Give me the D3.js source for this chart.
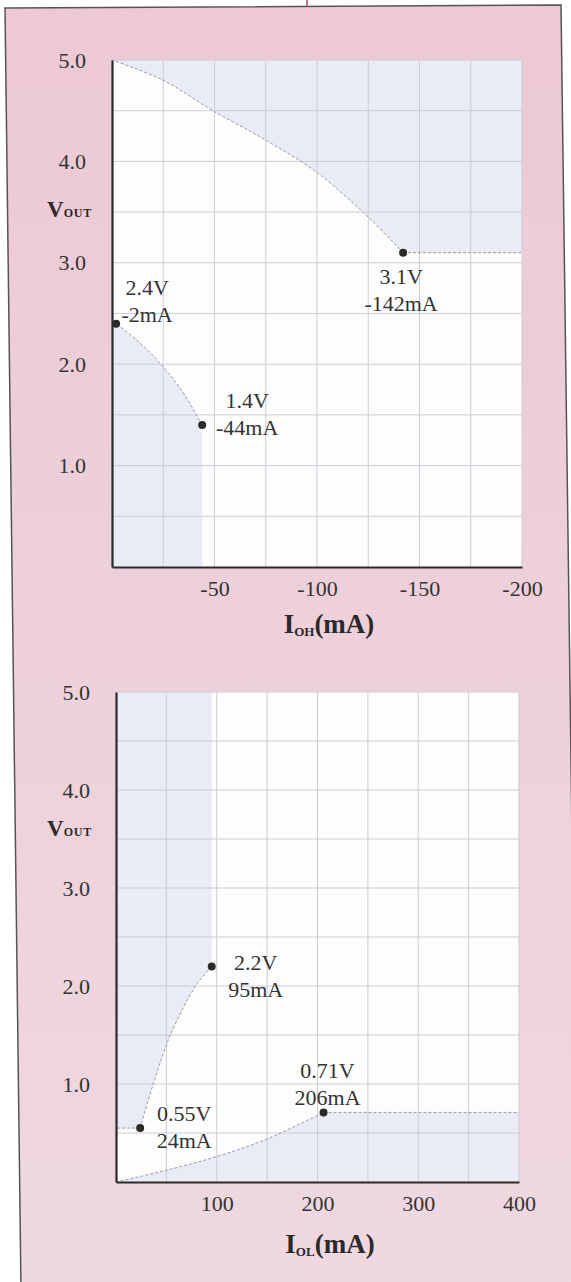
<!DOCTYPE html>
<html>
<head>
  <meta charset="utf-8">
  <title>VOUT - IOH / IOL</title>
  <script src="https://cdn.jsdelivr.net/npm/d3@7/dist/d3.min.js"></script>
  <style>
    body { margin: 0; background: #fff; }
    text { font-family: "Liberation Serif", "Times New Roman", serif; fill: #333; }
  </style>
</head>
<body>
<svg width="571" height="1282"></svg>

<script>
  // ---- 数据 ----
  var yTicks = [1, 2, 3, 4, 5];
  var yTickLabels = ["1.0", "2.0", "3.0", "4.0", "5.0"];

  var ohTicks = [-50, -100, -150, -200];
  var ohTickLabels = ["-50", "-100", "-150", "-200"];
  var olTicks = [100, 200, 300, 400];
  var olTickLabels = ["100", "200", "300", "400"];

  // 上图 (IOH) 标注点 [mA, V]
  var ohPoints = [[-2, 2.4], [-142, 3.1], [-44, 1.4]];
  var ohPointText = [["2.4V", "-2mA"], ["3.1V", "-142mA"], ["1.4V", "-44mA"]];
  // 阴影区边界曲线
  var ohUpperCurve = [[-142, 3.1], [-125, 3.45], [-100, 3.89], [-75, 4.21], [-50, 4.49], [-25, 4.8], [0, 5.0]];
  var ohLowerCurve = [[-44, 1.4], [-34, 1.74], [-23, 2.02], [-12, 2.24], [-2, 2.4]];

  // 下图 (IOL)
  var olPoints = [[95, 2.2], [24, 0.55], [206, 0.71]];
  var olPointText = [["2.2V", "95mA"], ["0.55V", "24mA"], ["0.71V", "206mA"]];
  var olLeftCurve = [[24, 0.55], [37, 1.0], [54, 1.5], [79, 2.0], [95, 2.2]];
  var olLowerCurve = [[0, 0], [50, 0.12], [100, 0.26], [150, 0.44], [206, 0.71]];

  var svg = d3.select("svg");

  // 粉色底板（带一点渐变）
  var grad = svg.append("defs").append("linearGradient")
    .attr("id", "pink").attr("x1", 0).attr("y1", 0).attr("x2", 0).attr("y2", 1);
  grad.append("stop").attr("offset", "0%").attr("stop-color", "#ecc9d4");
  grad.append("stop").attr("offset", "100%").attr("stop-color", "#efd8e0");

  svg.append("polygon")
    .attr("points", "5,8 561,5 578,1290 21,1290")
    .style("fill", "url(#pink)")
    .style("stroke", "#555")
    .style("stroke-width", 1.5);
  svg.append("line")
    .attr("x1", 307).attr("y1", 0).attr("x2", 307).attr("y2", 7)
    .style("stroke", "#a04a68").style("stroke-width", 1.5);

  function drawChart(opt) {
    var x = opt.x, y = opt.y;
    var x0 = x.domain()[0], x1 = x.domain()[1];
    var g = svg.append("g");
    var line = d3.line()
      .x(function(d) { return x(d[0]); })
      .y(function(d) { return y(d[1]); })
      .curve(d3.curveCatmullRom.alpha(0.5));
    var straight = d3.line()
      .x(function(d) { return x(d[0]); })
      .y(function(d) { return y(d[1]); });

    // 白色绘图区
    g.append("rect")
      .attr("x", Math.min(x(x0), x(x1)))
      .attr("y", y(5))
      .attr("width", Math.abs(x(x1) - x(x0)))
      .attr("height", y(0) - y(5))
      .style("fill", "#fdfdfe");

    // 阴影区
    opt.regions.forEach(function(r) {
      var d = line(r.curve) + r.tail.map(function(p) { return "L" + x(p[0]) + "," + y(p[1]); }).join("") + "Z";
      g.append("path")
        .attr("d", d)
        .style("fill", "#e9ebf5");
    });

    // 网格
    g.selectAll(".vgrid")
      .data(opt.vgrid)
      .enter().append("line")
      .attr("x1", function(d) { return x(d); })
      .attr("x2", function(d) { return x(d); })
      .attr("y1", y(0)).attr("y2", y(5))
      .style("stroke", "#cbccd5").style("stroke-width", 1);
    g.selectAll(".hgrid")
      .data(d3.range(0.5, 5.01, 0.5))
      .enter().append("line")
      .attr("x1", x(x0)).attr("x2", x(x1))
      .attr("y1", function(d) { return y(d); })
      .attr("y2", function(d) { return y(d); })
      .style("stroke", "#cbccd5").style("stroke-width", 1);

    // 边界线（虚线）
    opt.regions.forEach(function(r) {
      g.append("path")
        .attr("d", line(r.curve))
        .style("fill", "none")
        .style("stroke", "#9a9aa6")
        .style("stroke-width", 1)
        .style("stroke-dasharray", "3,2");
    });
    opt.flats.forEach(function(f) {
      g.append("path")
        .attr("d", straight(f))
        .style("fill", "none")
        .style("stroke", "#9a9aa6")
        .style("stroke-width", 1)
        .style("stroke-dasharray", "3,2");
    });

    // 坐标轴
    var yAxis = g.append("g")
      .attr("transform", "translate(" + x(0) + ",0)")
      .call(d3.axisLeft(y).tickValues(yTicks)
        .tickFormat(function(d, i) { return yTickLabels[i]; })
        .tickSize(0).tickSizeOuter(0).tickPadding(26));
    var xAxis = g.append("g")
      .attr("transform", "translate(0," + y(0) + ")")
      .call(d3.axisBottom(x).tickValues(opt.ticks)
        .tickFormat(function(d, i) { return opt.tickLabels[i]; })
        .tickSize(0).tickSizeOuter(0).tickPadding(13));
    [yAxis, xAxis].forEach(function(a) {
      a.attr("font-family", null).attr("font-size", null);
      a.select(".domain").style("stroke", "#2b2b2b").style("stroke-width", 2.2);
      a.selectAll("text").style("font-size", "22px").style("fill", "#333");
    });

    // 标注点
    g.selectAll(".pt")
      .data(opt.points)
      .enter().append("circle")
      .attr("cx", function(d) { return x(d[0]); })
      .attr("cy", function(d) { return y(d[1]); })
      .attr("r", 4)
      .style("fill", "#2a2a2a");

    opt.points.forEach(function(p, i) {
      var off = opt.labelOffsets[i];
      var t = g.append("text")
        .attr("text-anchor", "middle")
        .style("font-size", "22px");
      t.append("tspan")
        .attr("x", x(p[0]) + off[0]).attr("y", y(p[1]) + off[1])
        .text(opt.texts[i][0]);
      t.append("tspan")
        .attr("x", x(p[0]) + off[0]).attr("y", y(p[1]) + off[1] + 27)
        .text(opt.texts[i][1]);
    });

    // VOUT 标签
    var vt = g.append("text")
      .attr("x", 47).attr("y", opt.vLabelY)
      .style("font-weight", "bold").style("fill", "#2a2a2a");
    vt.append("tspan").style("font-size", "23px").text("V");
    vt.append("tspan").style("font-size", "12px").style("letter-spacing", "0.8px").text("OUT");

    // 电流标签
    var it = g.append("text")
      .attr("x", opt.iLabelX).attr("y", opt.iLabelY)
      .attr("text-anchor", "middle")
      .style("font-weight", "bold").style("fill", "#2a2a2a");
    it.append("tspan").style("font-size", "27px").text("I");
    it.append("tspan").style("font-size", "13px").attr("dy", 3).text(opt.sub);
    it.append("tspan").style("font-size", "27px").attr("dy", -3).text("(mA)");
  }

  // 上图
  var xOH = d3.scaleLinear().domain([0, -200]).range([112, 522]);
  var yOH = d3.scaleLinear().domain([0, 5]).range([567, 60]);
  drawChart({
    x: xOH, y: yOH,
    ticks: ohTicks, tickLabels: ohTickLabels,
    vgrid: d3.range(-25, -201, -25),
    regions: [
      { curve: ohUpperCurve, tail: [[0, 5], [-200, 5], [-200, 3.1]] },
      { curve: ohLowerCurve, tail: [[0, 2.4], [0, 0], [-44, 0]] }
    ],
    flats: [[[-142, 3.1], [-200, 3.1]]],
    points: ohPoints, texts: ohPointText,
    labelOffsets: [[31, -29], [-2, 31], [45, -17]],
    vLabelY: 217, iLabelX: 329, iLabelY: 633, sub: "OH"
  });

  // 下图
  var xOL = d3.scaleLinear().domain([0, 400]).range([116, 519]);
  var yOL = d3.scaleLinear().domain([0, 5]).range([1182, 692]);
  drawChart({
    x: xOL, y: yOL,
    ticks: olTicks, tickLabels: olTickLabels,
    vgrid: d3.range(50, 401, 50),
    regions: [
      { curve: olLeftCurve, tail: [[95, 5], [0, 5], [0, 0.55]] },
      { curve: olLowerCurve, tail: [[400, 0.71], [400, 0]] }
    ],
    flats: [[[24, 0.55], [0, 0.55]], [[206, 0.71], [400, 0.71]]],
    points: olPoints, texts: olPointText,
    labelOffsets: [[44, 4], [44, -7], [4, -34]],
    vLabelY: 836, iLabelX: 330, iLabelY: 1253, sub: "OL"
  });
</script>
</body>
</html>
